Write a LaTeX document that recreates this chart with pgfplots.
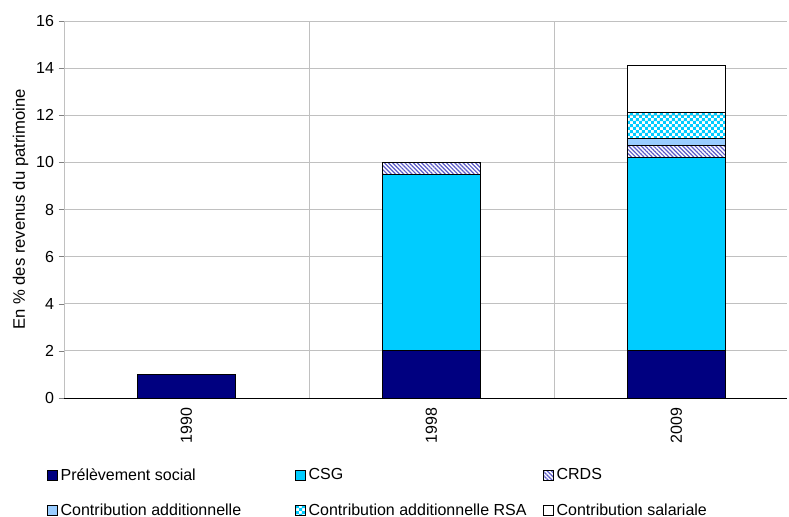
\documentclass[border=0pt]{standalone}
\usepackage{pgfplots}
\pgfplotsset{compat=1.18}
\usepackage{fontspec}
\setmainfont{Liberation Sans}
\usetikzlibrary{patterns,patterns.meta}
\definecolor{ps}{RGB}{0,0,128}
\definecolor{csg}{RGB}{0,204,255}
\definecolor{crds}{RGB}{90,90,200}
\definecolor{addc}{RGB}{153,204,255}
\definecolor{gridc}{RGB}{192,192,192}
\pgfdeclarepatternformonly{medchecker}{\pgfqpoint{0pt}{0pt}}{\pgfqpoint{4.4pt}{4.4pt}}{\pgfqpoint{4.4pt}{4.4pt}}{%
  \pgfpathrectangle{\pgfqpoint{0pt}{0pt}}{\pgfqpoint{2.25pt}{2.25pt}}%
  \pgfpathrectangle{\pgfqpoint{2.2pt}{2.2pt}}{\pgfqpoint{2.25pt}{2.25pt}}%
  \pgfusepath{fill}}
\begin{document}
\begin{tikzpicture}
\begin{axis}[
  scale only axis,
  width=542pt, height=282.75pt,
  anchor=south west, at={(0,0)},
  ybar stacked,
  bar width=73.5pt,
  xmin=-0.5, xmax=2.45,
  ymin=0, ymax=16,
  ytick={0,2,...,16},
  xtick={0,1,2},
  xticklabels={1990,1998,2009},
  x tick label style={rotate=90, anchor=east},
  extra x ticks={-0.5,0.5,1.5},
  extra x tick labels={},
  extra x tick style={grid=major, major tick length=4pt, tick style={black}},
  major x tick style={draw=none},
  axis x line=bottom, axis y line=left,
  axis line style={-, black},
  tick align=outside,
  major tick length=4pt,
  ymajorgrids,
  grid style={gridc, line width=0.6pt},
  y tick label style={/pgf/number format/assume math mode=true},
  tick label style={font=\fontsize{12}{14}\selectfont},
  ylabel={En \% des revenus du patrimoine},
  ylabel style={font=\fontsize{12.5}{14}\selectfont, yshift=-1pt},
  legend columns=3,
  legend cell align=left,
  legend style={draw=none, fill=none, at={(-0.029,-0.172)}, anchor=north west,
    font=\fontsize{12}{14}\selectfont, row sep=12pt,
    /tikz/every odd column/.append style={column sep=0pt}},
  legend image code/.code={\draw[#1,draw=black,line width=0.5pt] (0pt,-3.75pt) rectangle (7.5pt,3.75pt);},
]
\addplot[fill=ps, draw=black, line width=0.6pt] coordinates {(0,1) (1,2) (2,2)};
\addlegendentry{\makebox[174pt][l]{Prélèvement social}}
\addplot[fill=csg, draw=black, line width=0.6pt] coordinates {(0,0) (1,7.5) (2,8.2)};
\addlegendentry{\makebox[174pt][l]{CSG}}
\addplot[pattern={Lines[angle=-45,distance=2.2pt,line width=0.9pt]}, pattern color=crds, draw=black, line width=0.6pt] coordinates {(0,0) (1,0.5) (2,0.5)};
\addlegendentry{CRDS}
\addplot[fill=addc, draw=black, line width=0.6pt] coordinates {(0,0) (1,0) (2,0.3)};
\addlegendentry{\makebox[174pt][l]{Contribution additionnelle}}
\addplot[pattern=medchecker, pattern color=csg, draw=black, line width=0.6pt] coordinates {(0,0) (1,0) (2,1.1)};
\addlegendentry{\makebox[174pt][l]{Contribution additionnelle RSA}}
\addplot[fill=white, draw=black, line width=0.6pt] coordinates {(0,0) (1,0) (2,2.0)};
\addlegendentry{Contribution salariale}
\end{axis}
\pgfresetboundingbox
\path[use as bounding box] (-48pt,-89.25pt) rectangle (543.75pt,298.5pt);
\end{tikzpicture}
\end{document}
